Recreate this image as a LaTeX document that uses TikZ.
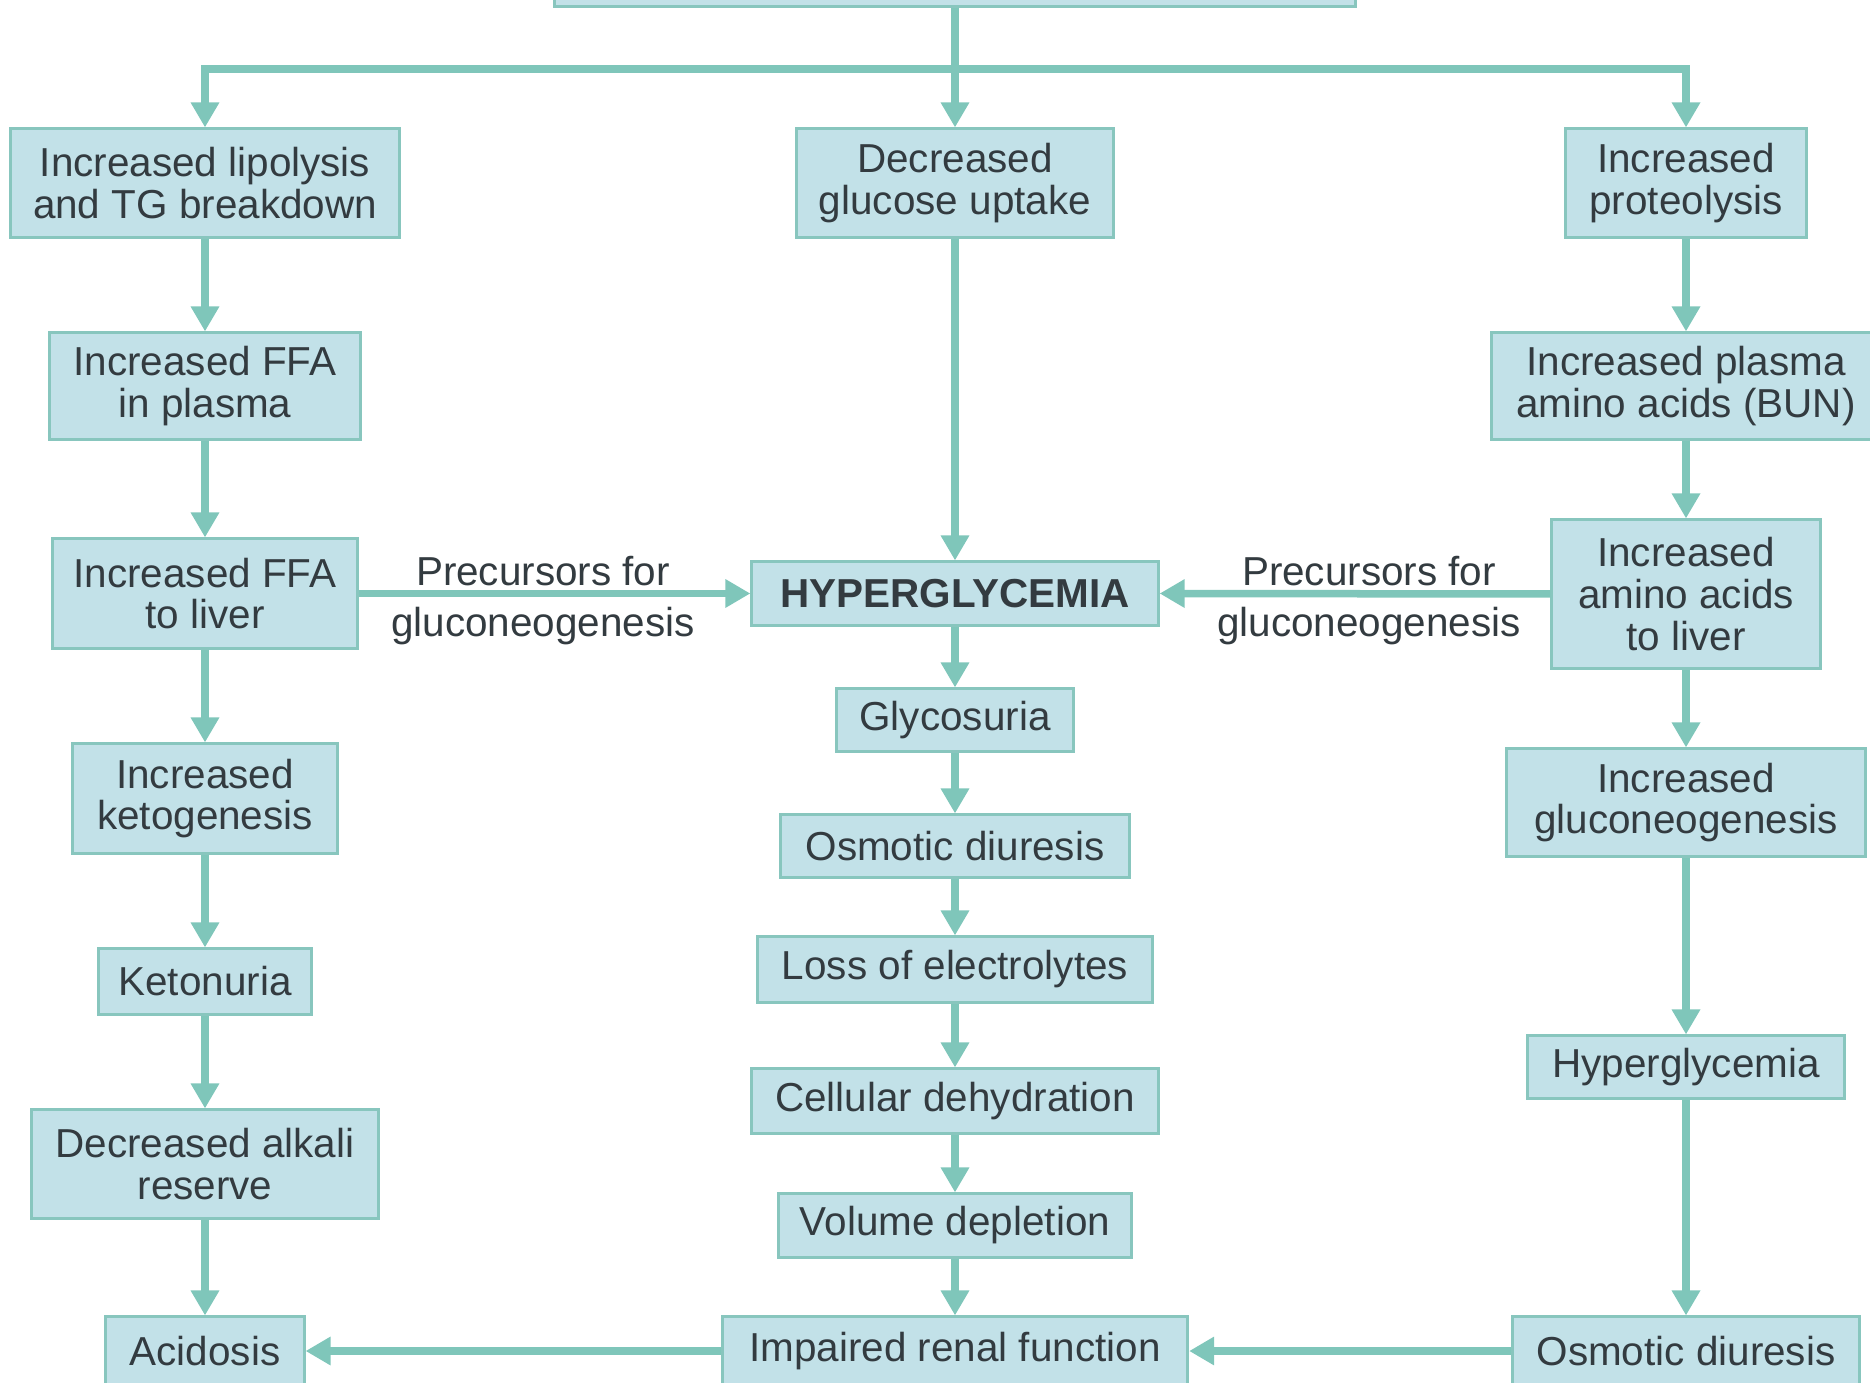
\documentclass[tikz,border=0pt]{standalone}
\usepackage{fontspec}
\setmainfont{Liberation Sans}
\usetikzlibrary{arrows.meta}
\definecolor{boxfill}{HTML}{C2E1E8}
\definecolor{boxline}{HTML}{88C6BE}
\definecolor{arrowc}{HTML}{7FC6BA}
\definecolor{txt}{HTML}{333B40}
\begin{document}
\begin{tikzpicture}[x=0.01cm,y=-0.01cm,
 box/.style={draw=boxline, fill=boxfill, line width=0.03cm, inner sep=0pt, align=center, text=txt, font=\fontsize{11.5}{11.9}\selectfont},
 arr/.style={draw=arrowc, line width=0.075cm, -{Triangle[width=0.27cm,length=0.25cm]}},
 lbl/.style={text=txt, font=\fontsize{11.5}{11.9}\selectfont, inner sep=0pt}]
\useasboundingbox (0,0) rectangle (1870,1383);
% top (cut off) box
\node[box, minimum width=8.01cm, minimum height=1.2cm] (top) at (955,-54) {};
% left column
\node[box, minimum width=3.89cm, minimum height=1.08cm] (L1) at (205,183) {Increased lipolysis\\and TG breakdown};
\node[box, minimum width=3.10cm, minimum height=1.06cm] (L2) at (205,386) {Increased FFA\\in plasma};
\node[box, minimum width=3.04cm, minimum height=1.09cm] (L3) at (205,593.5) {Increased FFA\\to liver};
\node[box, minimum width=2.64cm, minimum height=1.09cm] (L4) at (205,798.5) {Increased\\ketogenesis};
\node[box, minimum width=2.12cm, minimum height=0.65cm] (L5) at (205,981.5) {Ketonuria};
\node[box, minimum width=3.47cm, minimum height=1.08cm] (L6) at (205,1164) {Decreased alkali\\reserve};
\node[box, minimum width=1.98cm, minimum height=0.68cm] (L7) at (205,1351) {Acidosis};
% center column
\node[box, minimum width=3.16cm, minimum height=1.08cm] (C1) at (955,183) {Decreased\\glucose uptake};
\node[box, minimum width=4.06cm, minimum height=0.63cm, font=\fontsize{11.5}{11.9}\selectfont\bfseries] (C2) at (955,593.5) {HYPERGLYCEMIA};
\node[box, minimum width=2.37cm, minimum height=0.62cm] (C3) at (955,720) {Glycosuria};
\node[box, minimum width=3.49cm, minimum height=0.62cm] (C4) at (955,846) {Osmotic diuresis};
\node[box, minimum width=3.95cm, minimum height=0.65cm] (C5) at (955,969.5) {Loss of electrolytes};
\node[box, minimum width=4.06cm, minimum height=0.64cm] (C6) at (955,1101) {Cellular dehydration};
\node[box, minimum width=3.52cm, minimum height=0.63cm] (C7) at (955,1225.5) {Volume depletion};
\node[box, minimum width=4.65cm, minimum height=0.68cm] (C8) at (955,1351) {Impaired renal function};
% right column
\node[box, minimum width=2.41cm, minimum height=1.08cm] (R1) at (1686,183) {Increased\\proteolysis};
\node[box, minimum width=3.88cm, minimum height=1.06cm] (R2) at (1686,386) {Increased plasma\\amino acids (BUN)};
\node[box, minimum width=2.68cm, minimum height=1.48cm] (R3) at (1686,594) {Increased\\amino acids\\to liver};
\node[box, minimum width=3.59cm, minimum height=1.07cm] (R4) at (1686,802.5) {Increased\\gluconeogenesis};
\node[box, minimum width=3.17cm, minimum height=0.62cm] (R5) at (1686,1067) {Hyperglycemia};
\node[box, minimum width=3.47cm, minimum height=0.68cm] (R6) at (1686,1351) {Osmotic diuresis};
% labels
\node[lbl] (pl1) at (543,571) {Precursors for};
\node[lbl] (pl2) at (543,626) {gluconeogenesis};
\node[lbl] (pr1) at (1369,571) {Precursors for};
\node[lbl] (pr2) at (1369,626) {gluconeogenesis};
% top distribution
\coordinate (barL) at (205,69);
\coordinate (barR) at (1686,69);
\draw[arr] (barR) -- (barL) -- (L1);
\draw[arr] (barL) -- (barR) -- (R1);
\draw[arr] (top) -- (C1);
% left column
\draw[arr] (L1) -- (L2);
\draw[arr] (L2) -- (L3);
\draw[arr] (L3) -- (L4);
\draw[arr] (L4) -- (L5);
\draw[arr] (L5) -- (L6);
\draw[arr] (L6) -- (L7);
% center column
\draw[arr] (C1) -- (C2);
\draw[arr] (C2) -- (C3);
\draw[arr] (C3) -- (C4);
\draw[arr] (C4) -- (C5);
\draw[arr] (C5) -- (C6);
\draw[arr] (C6) -- (C7);
\draw[arr] (C7) -- (C8);
% right column
\draw[arr] (R1) -- (R2);
\draw[arr] (R2) -- (R3);
\draw[arr] (R3) -- (R4);
\draw[arr] (R4) -- (R5);
\draw[arr] (R5) -- (R6);
% cross links
\draw[arr] (L3.east) -- (C2.west);
\draw[arr] (R3.west) -- (C2.east);
\draw[arr] (R6) -- (C8);
\draw[arr] (C8) -- (L7);
\end{tikzpicture}
\end{document}
